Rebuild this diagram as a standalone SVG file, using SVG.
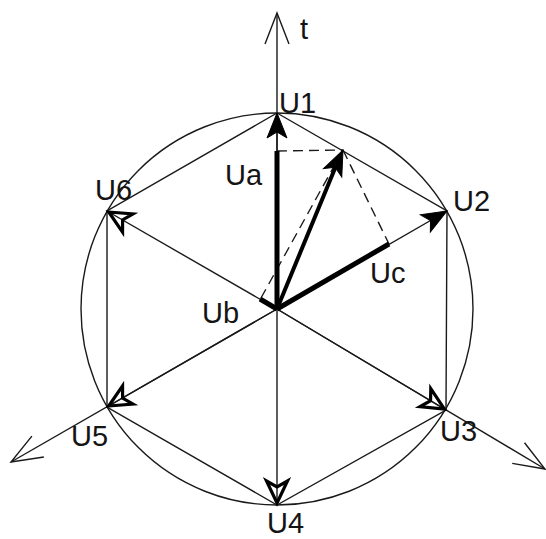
<svg xmlns="http://www.w3.org/2000/svg" width="546" height="539" viewBox="0 0 546 539">
<style>
  .thin{stroke:#1a1a1a;stroke-width:1.4;fill:none}
  .thick{stroke:#000;stroke-width:5;fill:none;stroke-linecap:butt}
  .dash{stroke:#1a1a1a;stroke-width:1.4;fill:none;stroke-dasharray:10,6}
  .lbl{font-family:"Liberation Sans",Arial,sans-serif;font-size:29px;fill:#141414}
</style>
<defs>
  <marker id="filled" markerUnits="userSpaceOnUse" orient="auto" refX="0" refY="0" markerWidth="30" markerHeight="30" overflow="visible">
    <path d="M0,0 L-25,-10 L-19,0 L-25,10 Z" fill="#000" stroke="#000" stroke-width="1" stroke-linejoin="miter"/>
  </marker>
  <marker id="hollow" markerUnits="userSpaceOnUse" orient="auto" refX="0" refY="0" markerWidth="30" markerHeight="30" overflow="visible">
    <path d="M-2,0 L-24,-10.5 L-18,0 L-24,10.5 Z" fill="none" stroke="#000" stroke-width="3.2" stroke-linejoin="miter"/>
  </marker>
  <marker id="open" markerUnits="userSpaceOnUse" orient="auto" refX="0" refY="0" markerWidth="40" markerHeight="40" overflow="visible">
    <path d="M-31,-12 L0,0 L-31,12" fill="none" stroke="#1a1a1a" stroke-width="1.4"/>
  </marker>
</defs>
<rect width="546" height="539" fill="#fff"/>
<g id="connectors">
  <circle class="thin" cx="277" cy="309" r="196"/>
  <polygon class="thin" points="277,113 447,211 446,410 277,505 107,407 107,211"/>
  <line class="thin" x1="277" y1="309" x2="277" y2="13" marker-end="url(#open)"/>
  <line class="thin" x1="277" y1="309" x2="11" y2="462" marker-end="url(#open)"/>
  <line class="thin" x1="277" y1="309" x2="545" y2="469" marker-end="url(#open)"/>
  <line class="thin" x1="277" y1="309" x2="277" y2="113" marker-end="url(#filled)"/>
  <line class="thin" x1="277" y1="309" x2="447" y2="211" marker-end="url(#filled)"/>
  <line class="thin" x1="277" y1="309" x2="446" y2="410" marker-end="url(#hollow)"/>
  <line class="thin" x1="277" y1="309" x2="277" y2="505" marker-end="url(#hollow)"/>
  <line class="thin" x1="277" y1="309" x2="107" y2="407" marker-end="url(#hollow)"/>
  <line class="thin" x1="277" y1="309" x2="107" y2="211" marker-end="url(#hollow)"/>
  <line class="dash" x1="277" y1="151" x2="343" y2="150"/>
  <line class="dash" x1="343" y1="150" x2="389" y2="244"/>
  <line class="dash" x1="261" y1="298" x2="343" y2="150"/>
  <line class="thick" x1="277" y1="309" x2="277" y2="151"/>
  <line class="thick" x1="277" y1="309" x2="389" y2="244"/>
  <line class="thick" x1="277" y1="309" x2="260" y2="299"/>
  <line class="thick" style="stroke-width:4" x1="277" y1="309" x2="338" y2="161"/>
  <line class="thin" style="stroke-opacity:0" x1="338" y1="161" x2="343" y2="150" marker-end="url(#filled)"/>
</g>
<g id="t"><text class="lbl" x="300" y="39">t</text></g>
<g id="U1"><text class="lbl" x="279" y="113">U1</text></g>
<g id="U2"><text class="lbl" x="453" y="211">U2</text></g>
<g id="U3"><text class="lbl" x="440" y="441">U3</text></g>
<g id="U4"><text class="lbl" x="267" y="533">U4</text></g>
<g id="U5"><text class="lbl" x="71" y="446">U5</text></g>
<g id="U6"><text class="lbl" x="95" y="200">U6</text></g>
<g id="Ua"><text class="lbl" x="225" y="185">Ua</text></g>
<g id="Ub"><text class="lbl" x="202" y="323">Ub</text></g>
<g id="Uc"><text class="lbl" x="370" y="283">Uc</text></g>
</svg>
